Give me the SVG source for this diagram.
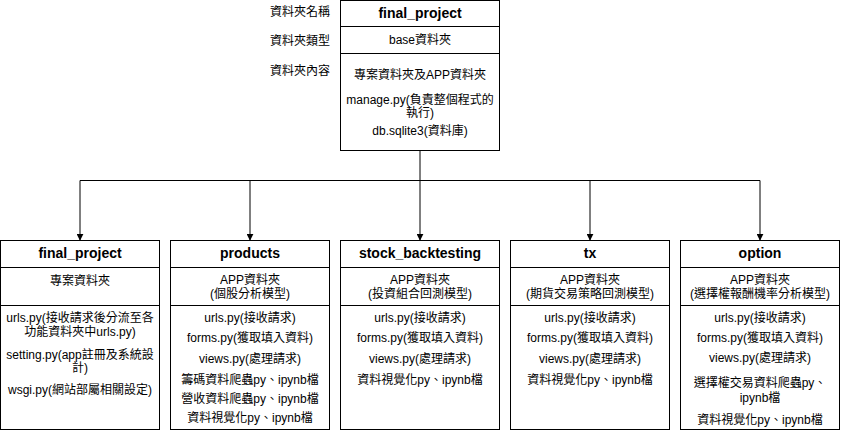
<svg xmlns="http://www.w3.org/2000/svg" width="841" height="432" viewBox="0 0 841 432">
<style>
text{font-family:"Liberation Sans","Noto Sans CJK TC",sans-serif;font-size:12px;fill:#000;text-anchor:middle;dominant-baseline:central}
.h{font-weight:bold;font-size:14px}
.l{text-anchor:start}
.box{fill:#fff;stroke:#000;stroke-width:1}
.ln{stroke:#000;stroke-width:1;fill:none}
</style>
<defs>
<marker id="arr" viewBox="0 0 10 10" refX="9" refY="5" markerWidth="7" markerHeight="7" markerUnits="userSpaceOnUse" orient="auto">
<path d="M0,0 L10,5 L0,10 Z" fill="#000"/>
</marker>
</defs>
<rect width="841" height="432" fill="#fff"/>
<g id="labels">
<text class="l" x="270" y="12">資料夾名稱</text>
<text class="l" x="270" y="41">資料夾類型</text>
<text class="l" x="270" y="71">資料夾內容</text>
</g>
<g id="root">
<rect class="box" x="340.5" y="0.5" width="159" height="150"/>
<line class="ln" x1="340.5" y1="26.5" x2="499.5" y2="26.5"/>
<line class="ln" x1="340.5" y1="53.5" x2="499.5" y2="53.5"/>
<text class="h" x="420" y="13">final_project</text>
<text x="420" y="40">base資料夾</text>
<text x="420" y="75">專案資料夾及APP資料夾</text>
<text x="420" y="100">manage.py(負責整個程式的</text>
<text x="420" y="113">執行)</text>
<text x="420" y="131">db.sqlite3(資料庫)</text>
</g>
<g id="connectors">
<line class="ln" x1="420" y1="150.5" x2="420" y2="180.5"/>
<line class="ln" x1="80" y1="180.5" x2="760" y2="180.5"/>
<line class="ln" x1="80" y1="180.5" x2="80" y2="240" marker-end="url(#arr)"/>
<line class="ln" x1="250" y1="180.5" x2="250" y2="240" marker-end="url(#arr)"/>
<line class="ln" x1="420" y1="180.5" x2="420" y2="240" marker-end="url(#arr)"/>
<line class="ln" x1="590" y1="180.5" x2="590" y2="240" marker-end="url(#arr)"/>
<line class="ln" x1="760" y1="180.5" x2="760" y2="240" marker-end="url(#arr)"/>
</g>
<g id="final_project">
<rect class="box" x="0.5" y="240.5" width="159" height="189"/>
<line class="ln" x1="0.5" y1="267.5" x2="159.5" y2="267.5"/>
<line class="ln" x1="0.5" y1="305.5" x2="159.5" y2="305.5"/>
<text class="h" x="80" y="253">final_project</text>
<text x="80" y="281">專案資料夾</text>
<text x="80" y="318">urls.py(接收請求後分流至各</text>
<text x="80" y="332">功能資料夾中urls.py)</text>
<text x="80" y="355">setting.py(app註冊及系統設</text>
<text x="80" y="368">計)</text>
<text x="80" y="390">wsgi.py(網站部屬相關設定)</text>
</g>
<g id="products">
<rect class="box" x="170.5" y="240.5" width="159" height="189"/>
<line class="ln" x1="170.5" y1="267.5" x2="329.5" y2="267.5"/>
<line class="ln" x1="170.5" y1="305.5" x2="329.5" y2="305.5"/>
<text class="h" x="250" y="253">products</text>
<text x="250" y="280">APP資料夾</text>
<text x="250" y="294">(個股分析模型)</text>
<text x="250" y="318">urls.py(接收請求)</text>
<text x="250" y="338">forms.py(獲取填入資料)</text>
<text x="250" y="359">views.py(處理請求)</text>
<text x="250" y="380">籌碼資料爬蟲py、ipynb檔</text>
<text x="250" y="399">營收資料爬蟲py、ipynb檔</text>
<text x="250" y="418">資料視覺化py、ipynb檔</text>
</g>
<g id="stock_backtesting">
<rect class="box" x="340.5" y="240.5" width="159" height="189"/>
<line class="ln" x1="340.5" y1="267.5" x2="499.5" y2="267.5"/>
<line class="ln" x1="340.5" y1="305.5" x2="499.5" y2="305.5"/>
<text class="h" x="420" y="253">stock_backtesting</text>
<text x="420" y="280">APP資料夾</text>
<text x="420" y="294">(投資組合回測模型)</text>
<text x="420" y="318">urls.py(接收請求)</text>
<text x="420" y="338">forms.py(獲取填入資料)</text>
<text x="420" y="359">views.py(處理請求)</text>
<text x="420" y="380">資料視覺化py、ipynb檔</text>
</g>
<g id="tx">
<rect class="box" x="510.5" y="240.5" width="159" height="189"/>
<line class="ln" x1="510.5" y1="267.5" x2="669.5" y2="267.5"/>
<line class="ln" x1="510.5" y1="305.5" x2="669.5" y2="305.5"/>
<text class="h" x="590" y="253">tx</text>
<text x="590" y="280">APP資料夾</text>
<text x="590" y="294">(期貨交易策略回測模型)</text>
<text x="590" y="318">urls.py(接收請求)</text>
<text x="590" y="338">forms.py(獲取填入資料)</text>
<text x="590" y="359">views.py(處理請求)</text>
<text x="590" y="380">資料視覺化py、ipynb檔</text>
</g>
<g id="option">
<rect class="box" x="680.5" y="240.5" width="159" height="189"/>
<line class="ln" x1="680.5" y1="267.5" x2="839.5" y2="267.5"/>
<line class="ln" x1="680.5" y1="305.5" x2="839.5" y2="305.5"/>
<text class="h" x="760" y="253">option</text>
<text x="760" y="280">APP資料夾</text>
<text x="760" y="294">(選擇權報酬機率分析模型)</text>
<text x="760" y="318">urls.py(接收請求)</text>
<text x="760" y="338">forms.py(獲取填入資料)</text>
<text x="760" y="358">views.py(處理請求)</text>
<text x="760" y="383">選擇權交易資料爬蟲py、</text>
<text x="760" y="398">ipynb檔</text>
<text x="760" y="420">資料視覺化py、ipynb檔</text>
</g>
</svg>
